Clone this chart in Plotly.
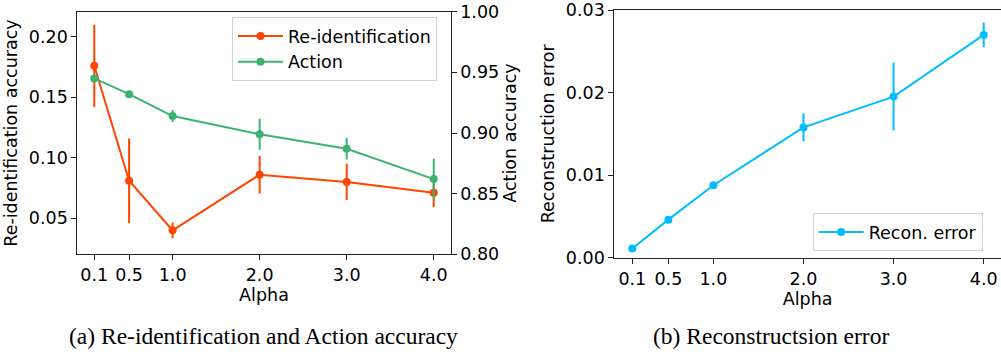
import plotly.graph_objects as go

# ---- data ----
alpha = [0.1, 0.5, 1.0, 2.0, 3.0, 4.0]
alpha_labels = ["0.1", "0.5", "1.0", "2.0", "3.0", "4.0"]

reid_acc = [0.176, 0.081, 0.040, 0.086, 0.080, 0.071]
reid_err = [0.034, 0.035, 0.0065, 0.0155, 0.015, 0.012]

action_acc = [0.945, 0.932, 0.914, 0.899, 0.887, 0.862]
action_err = [0.002, 0.002, 0.005, 0.0128, 0.0088, 0.0168]

recon_err = [0.00112, 0.00461, 0.00878, 0.01578, 0.01951, 0.02698]
recon_std = [0.0003, 0.0003, 0.0003, 0.0017, 0.0041, 0.0015]

W, H = 1001, 358
C_RED = "#FF4500"
C_GREEN = "#3CB371"
C_BLUE = "#00BFFF"
FONT = "DejaVu Sans"
FS = 17.5

def px_x(p):
    return p / W

def px_y(p):
    return 1 - p / H

fig = go.Figure()

fig.add_trace(go.Scatter(
    x=alpha, y=reid_acc, name="Re-identification", mode="lines+markers",
    line=dict(color=C_RED, width=2), marker=dict(color=C_RED, size=8),
    error_y=dict(type="data", array=reid_err, visible=True, color=C_RED, thickness=2, width=0),
    xaxis="x", yaxis="y", legend="legend",
))
fig.add_trace(go.Scatter(
    x=alpha, y=action_acc, name="Action", mode="lines+markers",
    line=dict(color=C_GREEN, width=2), marker=dict(color=C_GREEN, size=8),
    error_y=dict(type="data", array=action_err, visible=True, color=C_GREEN, thickness=2, width=0),
    xaxis="x", yaxis="y2", legend="legend",
))
fig.add_trace(go.Scatter(
    x=alpha, y=recon_err, name="Recon. error", mode="lines+markers",
    line=dict(color=C_BLUE, width=2), marker=dict(color=C_BLUE, size=8),
    error_y=dict(type="data", array=recon_std, visible=True, color=C_BLUE, thickness=2, width=0),
    xaxis="x2", yaxis="y3", legend="legend2",
))

axis_common = dict(
    automargin=False,
    ticklabeloverflow="allow",
    showline=True, linecolor="#222", linewidth=1,
    ticks="outside", ticklen=5, tickwidth=1, tickcolor="#222",
    showgrid=False, zeroline=False,
    tickfont=dict(family=FONT, size=FS, color="black"),
    title_font=dict(family=FONT, size=FS, color="black"),
)

legend_common = dict(
    xanchor="left", yanchor="top", itemwidth=45,
    bgcolor="rgba(255,255,255,0.8)", bordercolor="#d0d0d0", borderwidth=1,
    font=dict(family=FONT, size=FS, color="black"),
)

fig.update_layout(
    width=W, height=H,
    margin=dict(l=0, r=0, t=0, b=0),
    paper_bgcolor="white", plot_bgcolor="white",
    showlegend=True,
    xaxis=dict(
        domain=[px_x(77.3), px_x(450.7)], range=[-0.095, 4.195], anchor="y",
        tickvals=alpha, ticktext=alpha_labels, mirror=True,
        title=dict(text="Alpha", standoff=2), **axis_common,
    ),
    yaxis=dict(
        domain=[px_y(254.3), px_y(11.7)], range=[0.0202, 0.2207], anchor="x",
        tickvals=[0.05, 0.10, 0.15, 0.20], tickformat=".2f",
        title=dict(text="Re-identification accuracy", standoff=6), **axis_common,
    ),
    yaxis2=dict(
        overlaying="y", side="right", anchor="x", range=[0.80, 1.00],
        tickvals=[0.80, 0.85, 0.90, 0.95, 1.00], tickformat=".2f",
        title=dict(text="Action accuracy", standoff=5), **axis_common,
    ),
    xaxis2=dict(
        domain=[px_x(614.3), 1.0], range=[-0.1, 4.192], anchor="y3",
        tickvals=alpha, ticktext=alpha_labels, mirror=True,
        title=dict(text="Alpha", standoff=3), **axis_common,
    ),
    yaxis3=dict(
        domain=[px_y(257.7), px_y(10)], range=[0, 0.03], anchor="x2",
        tickvals=[0.00, 0.01, 0.02, 0.03], tickformat=".2f",
        title=dict(text="Reconstruction error", standoff=6), **axis_common,
    ),
    legend=dict(x=px_x(232), y=px_y(17), **legend_common),
    legend2=dict(x=px_x(812.7), y=px_y(213), **legend_common),
    annotations=[
        dict(text="(a) Re-identification and Action accuracy", xref="paper", yref="paper",
             x=px_x(263.5), y=px_y(336), xanchor="center", yanchor="middle", showarrow=False,
             font=dict(family="Liberation Serif", size=23.5, color="black")),
        dict(text="(b) Reconstructsion error", xref="paper", yref="paper",
             x=px_x(771), y=px_y(336), xanchor="center", yanchor="middle", showarrow=False,
             font=dict(family="Liberation Serif", size=23.5, color="black")),
    ],
)

fig.write_html("out.html")
